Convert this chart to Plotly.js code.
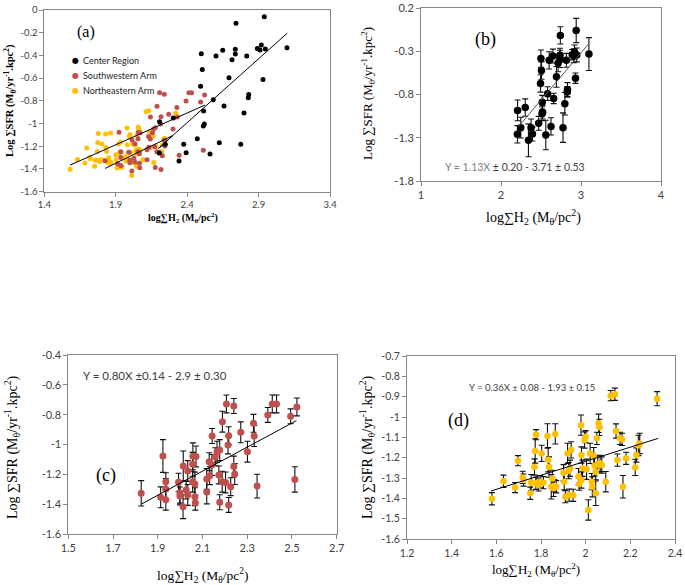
<!DOCTYPE html>
<html><head><meta charset="utf-8">
<script src="https://cdn.plot.ly/plotly-3.0.1.min.js"></script>
<style>html,body{margin:0;padding:0;background:#fff;} #chart{width:685px;height:585px;}</style>
</head><body><div id="chart"></div>
<script>
// ---- Center Region (panels a, b)
const centerX = [2.940, 2.742, 2.499, 2.649, 2.602, 2.737, 2.737, 2.714, 2.817, 2.891, 2.919, 2.910, 2.947, 3.099, 2.506, 2.693, 2.931, 2.494, 2.583, 2.658, 2.831, 2.828, 2.515, 2.303, 2.207, 2.520, 2.513, 2.798, 2.471, 2.625, 2.376, 2.775, 2.247, 2.393, 2.560, 2.343, 2.205];
const centerY = [-0.060, -0.117, -0.385, -0.355, -0.405, -0.346, -0.388, -0.437, -0.405, -0.340, -0.308, -0.352, -0.343, -0.332, -0.523, -0.596, -0.611, -0.672, -0.790, -0.846, -0.743, -0.772, -0.890, -0.951, -0.984, -1.004, -1.022, -0.907, -1.133, -1.169, -1.183, -1.183, -1.183, -1.257, -1.268, -1.330, -1.260];
const centerErr = [0.14, 0.10, 0.10, 0.08, 0.10, 0.08, 0.10, 0.10, 0.08, 0.06, 0.08, 0.08, 0.08, 0.19, 0.10, 0.12, 0.06, 0.10, 0.08, 0.06, 0.08, 0.06, 0.08, 0.10, 0.12, 0.08, 0.08, 0.13, 0.08, 0.10, 0.10, 0.17, 0.12, 0.08, 0.17, 0.19, 0.10];

// ---- Southwestern Arm (panels a, c)
const swX = [1.826,1.923,1.913,1.936,1.936,1.936,1.993,1.999,1.999,2.013,2.014,2.027,2.034,2.034,2.057,2.071,2.056,2.056,2.066,2.066,2.068,2.119,2.119,2.132,2.130,2.143,2.142,2.157,2.165,2.177,2.173,2.177,2.188,2.189,2.203,2.207,2.214,2.217,2.217,2.226,2.240,2.240,2.244,2.271,2.301,2.328,2.331,2.344,2.392,2.412,2.431,2.494,2.513,2.522];
const swY = [-1.327,-1.077,-1.354,-1.249,-1.298,-1.370,-1.253,-1.323,-1.345,-1.417,-1.144,-1.305,-1.178,-1.338,-1.079,-1.080,-1.133,-1.249,-1.265,-1.350,-1.390,-1.231,-1.318,-1.209,-1.115,-0.943,-1.137,-1.082,-1.048,-1.037,-1.204,-1.387,-1.249,-0.847,-1.254,-0.728,-1.003,-0.941,-1.405,-1.283,-0.742,-1.148,-1.198,-0.918,-1.048,-0.858,-0.943,-1.279,-0.802,-0.728,-0.728,-0.811,-1.234,-0.748];
const swErr = [0.085,0.11,0.07,0.06,0.07,0.07,0.06,0.07,0.06,0.08,0.10,0.06,0.07,0.07,0.09,0.07,0.08,0.07,0.08,0.06,0.05,0.07,0.08,0.06,0.06,0.05,0.07,0.06,0.07,0.07,0.06,0.05,0.07,0.07,0.07,0.06,0.06,0.06,0.05,0.06,0.05,0.07,0.07,0.07,0.07,0.06,0.07,0.08,0.05,0.06,0.06,0.05,0.085,0.06];

// ---- Northeastern Arm (panels a, d)
const neX = [1.580,1.632,1.684,1.697,1.718,1.722,1.752,1.756,1.771,1.774,1.778,1.777,1.789,1.796,1.803,1.811,1.829,1.832,1.836,1.846,1.851,1.856,1.860,1.864,1.868,1.901,1.904,1.909,1.919,1.924,1.926,1.930,1.935,1.944,1.968,1.971,1.979,1.981,1.981,1.986,1.995,2.000,2.004,2.012,2.020,2.027,2.030,2.036,2.040,2.045,2.045,2.050,2.054,2.058,2.062,2.065,2.072,2.090,2.112,2.131,2.136,2.142,2.154,2.163,2.167,2.181,2.222,2.227,2.236,2.242,2.320];
const neY = [-1.402,-1.316,-1.347,-1.215,-1.297,-1.310,-1.375,-1.323,-1.246,-1.167,-1.087,-1.326,-1.334,-1.318,-1.179,-1.323,-1.093,-1.210,-1.246,-1.343,-1.302,-1.351,-1.338,-1.083,-1.343,-1.274,-1.318,-1.392,-1.179,-1.264,-1.384,-1.252,-1.162,-1.385,-1.293,-1.330,-1.040,-1.187,-1.310,-1.252,-1.113,-1.097,-1.257,-1.457,-1.179,-1.318,-1.343,-1.190,-1.240,-1.375,-1.269,-1.105,-1.231,-1.031,-1.051,-1.228,-1.236,-1.318,-0.895,-0.888,-1.069,-1.212,-1.105,-1.110,-1.343,-1.203,-1.248,-1.187,-1.140,-1.130,-0.910];
const neErr = [0.03,0.03,0.025,0.025,0.03,0.03,0.03,0.04,0.04,0.06,0.025,0.03,0.03,0.03,0.04,0.03,0.06,0.06,0.05,0.06,0.04,0.04,0.03,0.05,0.03,0.04,0.04,0.03,0.05,0.04,0.03,0.04,0.04,0.03,0.04,0.03,0.05,0.04,0.04,0.04,0.04,0.03,0.05,0.05,0.05,0.04,0.05,0.04,0.05,0.06,0.04,0.03,0.04,0.045,0.04,0.04,0.04,0.05,0.025,0.03,0.035,0.03,0.03,0.03,0.055,0.03,0.04,0.035,0.05,0.05,0.035];

// ---- Fit lines (endpoints)
const fitA1X = [1.58, 2.525],  fitA1Y = [-1.366, -0.837];
const fitA2X = [1.826, 2.30, 2.20], fitA2Y = [-1.395, -1.105, -1.22];
const fitA3X = [2.198, 3.10],  fitA3Y = [-1.219, -0.205];
const fitBX = [2.22, 3.09],    fitBY = [-1.17, -0.22];
const fitCX = [1.826, 2.52],   fitCY = [-1.40, -0.84];
const fitDX = [1.576, 2.325],  fitDY = [-1.364, -1.105];

// ---- Tick labels
const aXTicks = [1.4, 1.9, 2.4, 2.9, 3.4], aXText = ["1.4","1.9","2.4","2.9","3.4"];
const aYTicks = [0,-0.2,-0.4,-0.6,-0.8,-1,-1.2,-1.4,-1.6], aYText = ["0","-0.2","-0.4","-0.6","-0.8","-1","-1.2","-1.4","-1.6"];
const bXTicks = [1,2,3,4], bXText = ["1","2","3","4"];
const bYTicks = [0.2,-0.3,-0.8,-1.3,-1.8], bYText = ["0.2","-0.3","-0.8","-1.3","-1.8"];
const cXTicks = [1.5,1.7,1.9,2.1,2.3,2.5,2.7], cXText = ["1.5","1.7","1.9","2.1","2.3","2.5","2.7"];
const cYTicks = [-0.4,-0.6,-0.8,-1,-1.2,-1.4,-1.6], cYText = ["-0.4","-0.6","-0.8","-1","-1.2","-1.4","-1.6"];
const dXTicks = [1.2,1.4,1.6,1.8,2,2.2,2.4], dXText = ["1.2","1.4","1.6","1.8","2","2.2","2.4"];
const dYTicks = [-0.7,-0.8,-0.9,-1,-1.1,-1.2,-1.3,-1.4,-1.5,-1.6], dYText = ["-0.7","-0.8","-0.9","-1","-1.1","-1.2","-1.3","-1.4","-1.5","-1.6"];

const seriesNames = ["Center Region", "Southwestern Arm", "Northeastern Arm"];
const BLACK = "#000000", RED = "#C0504D", GOLD = "#FFC000";
const seriesColors = [BLACK, RED, GOLD];

// ---- helpers (page pixels -> paper)
const W = 685, H = 585;
const px = v => v / W, py = v => 1 - v / H;

function pts(x, y, color, size, xa, ya, name, err) {
  const t = {x, y, type: "scatter", mode: "markers", xaxis: xa, yaxis: ya, name,
    showlegend: false, marker: {color, size, line: {width: 0}}};
  if (err) t.error_y = {type: "data", array: err, visible: true, color: "#111", thickness: 1.1, width: 3};
  return t;
}
function line(x, y, xa, ya, color) {
  return {x, y, type: "scatter", mode: "lines", xaxis: xa, yaxis: ya, showlegend: false,
    line: {color: color || "#000", width: 1}, hoverinfo: "skip"};
}

const traces = [
  pts(neX, neY, GOLD, 5, "x", "y", seriesNames[2]),
  pts(swX, swY, RED, 5, "x", "y", seriesNames[1]),
  pts(centerX, centerY, BLACK, 5, "x", "y", seriesNames[0]),
  line(fitA1X, fitA1Y, "x", "y"), line(fitA2X, fitA2Y, "x", "y"), line(fitA3X, fitA3Y, "x", "y"),
  pts(centerX, centerY, BLACK, 7.5, "x2", "y2", seriesNames[0], centerErr),
  line(fitBX, fitBY, "x2", "y2", "#555"),
  pts(swX, swY, RED, 7, "x3", "y3", seriesNames[1], swErr),
  line(fitCX, fitCY, "x3", "y3"),
  pts(neX, neY, GOLD, 6.5, "x4", "y4", seriesNames[2], neErr),
  line(fitDX, fitDY, "x4", "y4")
];

const tickFont = {family: "Lato, 'Open Sans', sans-serif", size: 10, color: "#404040"};
function ax(domain, range, vals, text, anchor, fsize) {
  return {domain, range, tickvals: vals, ticktext: text, anchor, showgrid: false, zeroline: false,
    showline: true, mirror: true, linecolor: "#868686", linewidth: 1, ticks: "outside", ticklen: 4,
    tickcolor: "#868686", tickfont: Object.assign({}, tickFont, {size: fsize || 10}),
    ticklabeloverflow: "allow", fixedrange: true};
}

const serif = "'Liberation Serif', 'Times New Roman', serif";
function ann(text, x, y, size, opts) {
  return Object.assign({text, x: px(x), y: py(y), xref: "paper", yref: "paper", showarrow: false,
    xanchor: "center", yanchor: "middle", font: {family: serif, size, color: "#000"}}, opts || {});
}
const sfrTitle = "Log ∑SFR (M<sub>θ</sub>/yr<sup>-1</sup>.kpc<sup>2</sup>)";
const h2Title = "log∑H<sub>2</sub> (M<sub>θ</sub>/pc<sup>2</sup>)";
const sans = f => ({family: "Lato, sans-serif", size: f, color: "#404040"});

// legend of panel (a), drawn as text
const legendRows = [61, 75.7, 90];
const legendAnns = [];
seriesNames.forEach((n, i) => {
  legendAnns.push(ann("●", 75, legendRows[i], 9, {font: {family: "DejaVu Sans", size: 8, color: seriesColors[i]}}));
  legendAnns.push(ann(n, 81, legendRows[i], 9, {xanchor: "left", font: {family: "Lato, sans-serif", size: 9, color: "#222"}}));
});

const layout = {
  width: W, height: H, margin: {l: 0, r: 0, t: 0, b: 0}, paper_bgcolor: "#fff", plot_bgcolor: "#fff",
  showlegend: false,
  xaxis: ax([px(44.3), px(330)], [1.4, 3.4], aXTicks, aXText, "y", 9.5),
  yaxis: ax([py(191.7), py(10)], [-1.6, 0.00001], aYTicks, aYText, "x", 9.5),
  xaxis2: ax([px(421), px(661)], [1, 4], bXTicks, bXText, "y2", 11),
  yaxis2: ax([py(181), py(8)], [-1.8, 0.20001], bYTicks, bYText, "x2", 11),
  xaxis3: ax([px(68.3), px(336.7)], [1.5, 2.70001], cXTicks, cXText, "y3", 11),
  yaxis3: ax([py(534), py(355)], [-1.6, -0.39999], cYTicks, cYText, "x3", 11),
  xaxis4: ax([px(407), px(675)], [1.2, 2.40001], dXTicks, dXText, "y4", 10.5),
  yaxis4: ax([py(539), py(356)], [-1.6, -0.69999], dYTicks, dYText, "x4", 10.5),
  annotations: [
    ann("(a)", 86, 32, 16),
    ann("(b)", 485, 40, 18),
    ann("(c)", 106, 475, 18),
    ann("(d)", 458, 420, 18),
    ann("<b>" + sfrTitle + "</b>", 10, 101, 10.5, {textangle: -90}),
    ann("<b>" + h2Title + "</b>", 183, 218, 10),
    ann(sfrTitle, 368, 94, 13, {textangle: -90}),
    ann(h2Title, 533, 217, 14),
    ann(sfrTitle, 12, 447, 14, {textangle: -90}),
    ann(h2Title, 202, 575, 13.5),
    ann(sfrTitle, 367, 447, 14, {textangle: -90}),
    ann(h2Title, 536, 570, 13),
    ann("<span style='color:#7f7f7f'>Y = 1.13X</span> ± 0.20 - 3.71 ± 0.53", 515, 167, 10.5, {font: sans(10.5)}),
    ann("Y = 0.80X ±0.14 - 2.9 ± 0.30", 155, 375, 11.5, {font: sans(11.5)}),
    ann("Y = 0.36X ± 0.08 - 1.93 ± 0.15", 532, 387, 9.5, {font: sans(9.5)})
  ].concat(legendAnns)
};

Plotly.newPlot("chart", traces, layout, {staticPlot: true, displayModeBar: false});
</script></body></html>
